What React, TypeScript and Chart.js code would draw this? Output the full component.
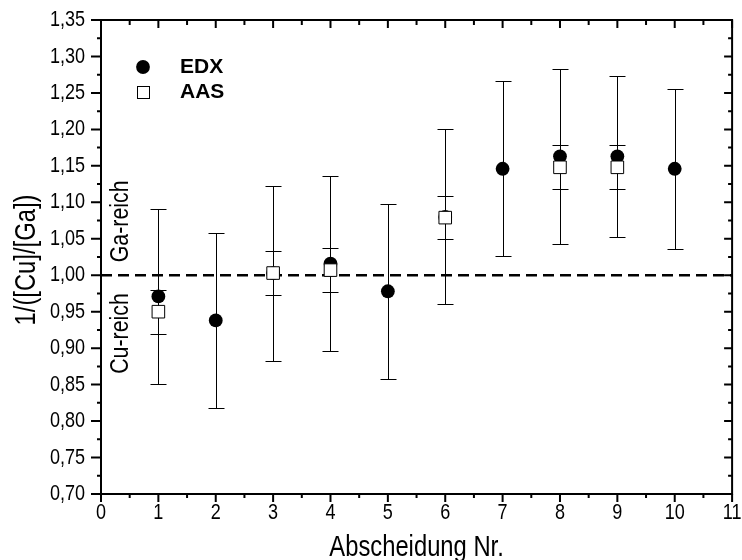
import React, { useEffect, useRef } from 'react';
import { Chart, registerables } from 'chart.js';

Chart.register(...registerables);

// ---- data ----
const X_TICKS = [0, 1, 2, 3, 4, 5, 6, 7, 8, 9, 10, 11];
const Y_TICKS = [0.70, 0.75, 0.80, 0.85, 0.90, 0.95, 1.00, 1.05, 1.10, 1.15, 1.20, 1.25, 1.30, 1.35];

const EDX_X = [1, 2, 3, 4, 5, 6, 7, 8, 9, 10];
const EDX_Y = [0.971, 0.938, 1.003, 1.016, 0.978, 1.080, 1.146, 1.163, 1.163, 1.146];
const EDX_ERR = [0.12, 0.12, 0.12, 0.12, 0.12, 0.12, 0.12, 0.12, 0.11, 0.11];

const AAS_X = [1, 3, 4, 6, 8, 9];
const AAS_Y = [0.950, 1.003, 1.007, 1.079, 1.148, 1.148];
const AAS_ERR = [0.03, 0.03, 0.03, 0.03, 0.03, 0.03];

const SERIES_LABELS = ['EDX', 'AAS'];
const REGION_LABELS = ['Ga-reich', 'Cu-reich'];
const REF_LINE = 1.0;
const X_TITLE = 'Abscheidung Nr.';
const Y_TITLE = '1/([Cu]/[Ga])';

const FONT = "'Liberation Sans', Arial, sans-serif";
const NARROW_X = 0.82; // horizontal squeeze to mimic a narrow face

const fmtY = (v: number) => v.toFixed(2).replace('.', ',');

function drawText(
  ctx: CanvasRenderingContext2D,
  text: string,
  x: number,
  y: number,
  font: string,
  align: CanvasTextAlign,
  baseline: CanvasTextBaseline,
  sx = 1,
  rot = 0
) {
  ctx.save();
  ctx.translate(x, y);
  if (rot) ctx.rotate(rot);
  if (sx !== 1) ctx.scale(sx, 1);
  ctx.font = font;
  ctx.textAlign = align;
  ctx.textBaseline = baseline;
  ctx.fillStyle = '#000';
  ctx.fillText(text, 0, 0);
  ctx.restore();
}

const decorPlugin = {
  id: 'decor',
  beforeDatasetsDraw(chart: any) {
    const { ctx, chartArea: a, scales } = chart;
    const y = scales.y;
    const yRef = y.getPixelForValue(REF_LINE);
    ctx.save();
    ctx.strokeStyle = '#000';
    ctx.lineWidth = 2.5;
    ctx.setLineDash([11, 6]);
    ctx.beginPath();
    ctx.moveTo(a.left, yRef);
    ctx.lineTo(a.right, yRef);
    ctx.stroke();
    ctx.setLineDash([]);
    ctx.restore();

    const f = `26px ${FONT}`;
    const lx = a.left + 20;
    drawText(ctx, REGION_LABELS[0], lx, yRef - 13, f, 'left', 'middle', NARROW_X, -Math.PI / 2);
    drawText(ctx, REGION_LABELS[1], lx, yRef + 18, f, 'right', 'middle', NARROW_X, -Math.PI / 2);
  },
  beforeDatasetDraw(chart: any, args: any) {
    const { ctx, scales } = chart;
    const y = scales.y;
    const ds = chart.data.datasets[args.index];
    const errs: number[] = ds.errors || [];
    const meta = args.meta;
    ctx.save();
    ctx.strokeStyle = '#000';
    ctx.lineWidth = 1;
    const cap = 8;
    meta.data.forEach((el: any, i: number) => {
      const v = ds.data[i].y;
      const e = errs[i];
      if (!e) return;
      const px = Math.round(el.x) + 0.5;
      const top = Math.round(y.getPixelForValue(v + e)) + 0.5;
      const bot = Math.round(y.getPixelForValue(v - e)) + 0.5;
      ctx.beginPath();
      ctx.moveTo(px, top);
      ctx.lineTo(px, bot);
      ctx.moveTo(px - cap, top);
      ctx.lineTo(px + cap, top);
      ctx.moveTo(px - cap, bot);
      ctx.lineTo(px + cap, bot);
      ctx.stroke();
    });
    ctx.restore();
  },
  afterDraw(chart: any) {
    const { ctx, chartArea: a, scales } = chart;
    const x = scales.x;
    const y = scales.y;
    ctx.save();
    ctx.strokeStyle = '#000';
    ctx.lineWidth = 2;
    ctx.lineCap = 'butt';
    ctx.strokeRect(a.left, a.top, a.right - a.left, a.bottom - a.top);

    const xMaj: number[] = x.ticks.map((t: any) => t.value);
    const yMaj: number[] = y.ticks.map((t: any) => t.value);
    const mids = (arr: number[]) => arr.slice(1).map((v, i) => (v + arr[i]) / 2);
    const xMin = mids(xMaj);
    const yMin = mids(yMaj);

    ctx.beginPath();
    const xt = (vals: number[], len: number, lenTop: number) => {
      vals.forEach((v) => {
        const p = x.getPixelForValue(v);
        ctx.moveTo(p, a.bottom);
        ctx.lineTo(p, a.bottom + len);
        ctx.moveTo(p, a.top);
        ctx.lineTo(p, a.top + lenTop);
      });
    };
    const yt = (vals: number[], len: number, lenRight: number) => {
      vals.forEach((v) => {
        const p = y.getPixelForValue(v);
        ctx.moveTo(a.left, p);
        ctx.lineTo(a.left - len, p);
        ctx.moveTo(a.right, p);
        ctx.lineTo(a.right - lenRight, p);
      });
    };
    xt(xMaj, 8, 8);
    xt(xMin, 4, 5);
    yt(yMaj, 10, 8);
    yt(yMin, 4, 4);
    ctx.stroke();
    ctx.restore();

    // tick labels
    const tf = `22px ${FONT}`;
    yMaj.forEach((v) => {
      drawText(ctx, fmtY(v), a.left - 16, y.getPixelForValue(v), tf, 'right', 'middle', NARROW_X);
    });
    xMaj.forEach((v) => {
      drawText(ctx, String(v), x.getPixelForValue(v), a.bottom + 25, tf, 'center', 'alphabetic', NARROW_X);
    });

    // axis titles
    const ttf = `29px ${FONT}`;
    drawText(ctx, X_TITLE, (a.left + a.right) / 2, 556, ttf, 'center', 'alphabetic', NARROW_X);
    drawText(ctx, Y_TITLE, 27, (a.top + a.bottom) / 2 + 3, ttf, 'center', 'middle', NARROW_X, -Math.PI / 2);

    // legend
    const lx = a.left + 42;
    const ly1 = a.top + 47;
    const ly2 = a.top + 72;
    ctx.save();
    ctx.fillStyle = '#000';
    ctx.beginPath();
    ctx.arc(lx, ly1, 6.9, 0, Math.PI * 2);
    ctx.fill();
    ctx.fillStyle = '#fff';
    ctx.strokeStyle = '#000';
    ctx.lineWidth = 1;
    ctx.fillRect(lx - 6, ly2 - 6, 12, 12);
    ctx.strokeRect(Math.round(lx - 6) + 0.5, Math.round(ly2 - 6) + 0.5, 12, 12);
    ctx.restore();
    const lf = `bold 21px ${FONT}`;
    drawText(ctx, SERIES_LABELS[0], a.left + 79, ly1, lf, 'left', 'middle');
    drawText(ctx, SERIES_LABELS[1], a.left + 79, ly2, lf, 'left', 'middle');
  },
};

export default function App() {
  const ref = useRef<HTMLCanvasElement>(null);
  useEffect(() => {
    const canvas = ref.current;
    if (!canvas) return;
    const zeroPad = (s: any) => {
      s.paddingTop = 0;
      s.paddingBottom = 0;
      s.paddingLeft = 0;
      s.paddingRight = 0;
    };
    const chart = new Chart(canvas, {
      type: 'scatter',
      data: {
        datasets: [
          {
            label: SERIES_LABELS[0],
            data: EDX_X.map((x, i) => ({ x, y: EDX_Y[i] })),
            errors: EDX_ERR,
            pointStyle: 'circle',
            pointRadius: 6.9,
            pointHoverRadius: 6.9,
            backgroundColor: '#000',
            borderColor: '#000',
            borderWidth: 0,
            order: 1,
          } as any,
          {
            label: SERIES_LABELS[1],
            data: AAS_X.map((x, i) => ({ x, y: AAS_Y[i] })),
            errors: AAS_ERR,
            pointStyle: 'rect',
            pointRadius: 8.9,
            pointHoverRadius: 8.9,
            backgroundColor: '#fff',
            borderColor: '#000',
            borderWidth: 1,
            order: 0,
          } as any,
        ],
      },
      options: {
        animation: false,
        responsive: false,
        events: [],
        layout: { padding: { top: 20, right: 9, left: 0, bottom: 0 } },
        plugins: { legend: { display: false }, tooltip: { enabled: false } },
        scales: {
          x: {
            type: 'linear',
            position: 'bottom',
            min: X_TICKS[0],
            max: X_TICKS[X_TICKS.length - 1],
            afterBuildTicks: (s: any) => {
              s.ticks = X_TICKS.map((v) => ({ value: v }));
            },
            afterFit: (s: any) => {
              s.height = 66;
              zeroPad(s);
            },
            grid: { display: false, drawTicks: false },
            border: { display: false },
            ticks: { display: false },
            title: { display: false },
          },
          y: {
            type: 'linear',
            min: Y_TICKS[0],
            max: Y_TICKS[Y_TICKS.length - 1],
            afterBuildTicks: (s: any) => {
              s.ticks = Y_TICKS.map((v) => ({ value: v }));
            },
            afterFit: (s: any) => {
              s.width = 101;
              zeroPad(s);
            },
            grid: { display: false, drawTicks: false },
            border: { display: false },
            ticks: { display: false },
            title: { display: false },
          },
        },
      },
      plugins: [decorPlugin],
    });
    return () => chart.destroy();
  }, []);

  return (
    <div style={{ position: 'absolute', left: 0, top: 0, width: 742, height: 560, background: '#fff' }}>
      <canvas ref={ref} width={742} height={560} style={{ display: 'block' }} />
    </div>
  );
}
